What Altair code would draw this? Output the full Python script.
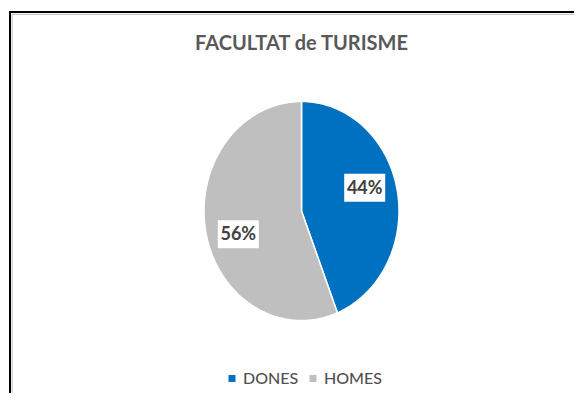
import altair as alt
import pandas as pd

# ---- data ----
categories = ["DONES", "HOMES"]
values = [44, 56]
colors = ["#0070C0", "#BFBFBF"]
title_text = "FACULTAT de TURISME"

df = pd.DataFrame({
    "cat": categories,
    "value": values,
    "ord": list(range(len(categories))),
})

# plot area = bounding box of the (slightly elliptical) pie
W, H = 195, 219
xs = alt.Scale(domain=[-1, 1], nice=False, zero=False)
ys = alt.Scale(domain=[-1, 1], nice=False, zero=False)

base = (
    alt.Chart(df)
    .transform_joinaggregate(total="sum(value)")
    .transform_window(cum="sum(value)", sort=[alt.SortField("ord")], frame=[None, 0])
    .transform_calculate(
        a0="2*PI*(datum.cum - datum.value)/datum.total",
        a1="2*PI*datum.cum/datum.total",
        pct="datum.value/datum.total",
    )
)

N = 120
pie = (
    base.transform_calculate(k=f"sequence(-1, {N + 1})")
    .transform_flatten(["k"])
    .transform_calculate(
        ang=f"datum.a0 + (datum.a1 - datum.a0) * datum.k / {N}",
        px="datum.k < 0 ? 0 : sin(datum.ang)",
        py="datum.k < 0 ? 0 : cos(datum.ang)",
    )
    .mark_line(interpolate="linear-closed", stroke="white", strokeWidth=1.5, strokeJoin="round")
    .encode(
        x=alt.X("px:Q", scale=xs, axis=None),
        y=alt.Y("py:Q", scale=ys, axis=None),
        order=alt.Order("k:Q"),
        detail="cat:N",
        fill=alt.Fill(
            "cat:N",
            scale=alt.Scale(domain=categories, range=colors),
            legend=alt.Legend(
                orient="none",
                legendX=20,
                legendY=269,
                direction="horizontal",
                title=None,
                symbolType="square",
                symbolSize=49,
                symbolStrokeWidth=0,
                symbolOpacity=1,
                labelFont="Lato",
                labelFontSize=16,
                labelFontWeight=500,
                labelColor="#505050",
                labelOffset=3,
                columnPadding=6,
            ),
        ),
    )
)

lab = base.transform_calculate(
    mid="(datum.a0 + datum.a1)/2",
    lx="0.66*sin(datum.mid)",
    ly="1.13*cos(datum.mid)",
)
rects = lab.mark_rect(width=41, height=28, fill="white").encode(
    x=alt.X("lx:Q", scale=xs, axis=None),
    y=alt.Y("ly:Q", scale=ys, axis=None),
)
texts = lab.mark_text(font="Lato", fontSize=18, fontWeight="bold", color="#404040", dy=1).encode(
    x=alt.X("lx:Q", scale=xs, axis=None),
    y=alt.Y("ly:Q", scale=ys, axis=None),
    text=alt.Text("pct:Q", format=".0%"),
)

# decorative frame (left and top edges of the original chart box)
one = alt.Data(values=[{}])
frame_left = alt.Chart(one).mark_rule(color="black", strokeWidth=2).encode(
    x=alt.value(-194), y=alt.value(-90.5), y2=alt.value(292))
frame_top = alt.Chart(one).mark_rule(color="black", strokeWidth=2).encode(
    x=alt.value(-195), x2=alt.value(371), y=alt.value(-89.5))
frame_left_in = alt.Chart(one).mark_rule(color="#c8c8c8", strokeWidth=1.2).encode(
    x=alt.value(-191.8), y=alt.value(-87.5), y2=alt.value(292))
frame_top_in = alt.Chart(one).mark_rule(color="#c8c8c8", strokeWidth=1.2).encode(
    x=alt.value(-192.5), x2=alt.value(371), y=alt.value(-87.2))

chart = (
    alt.layer(pie, rects, texts, frame_left, frame_top, frame_left_in, frame_top_in)
    .properties(
        width=W,
        height=H,
        title=alt.TitleParams(
            title_text,
            font="Lato",
            fontSize=20,
            fontWeight="bold",
            color="#595959",
            anchor="middle",
            frame="group",
            offset=-44,
        ),
        autosize=alt.AutoSizeParams(type="none"),
        padding={"left": 196, "top": 93.5, "right": 175, "bottom": 72.5},
    )
    .configure_view(stroke=None)
)

chart.save("out.html", embed_options={"renderer": "svg", "actions": False})
